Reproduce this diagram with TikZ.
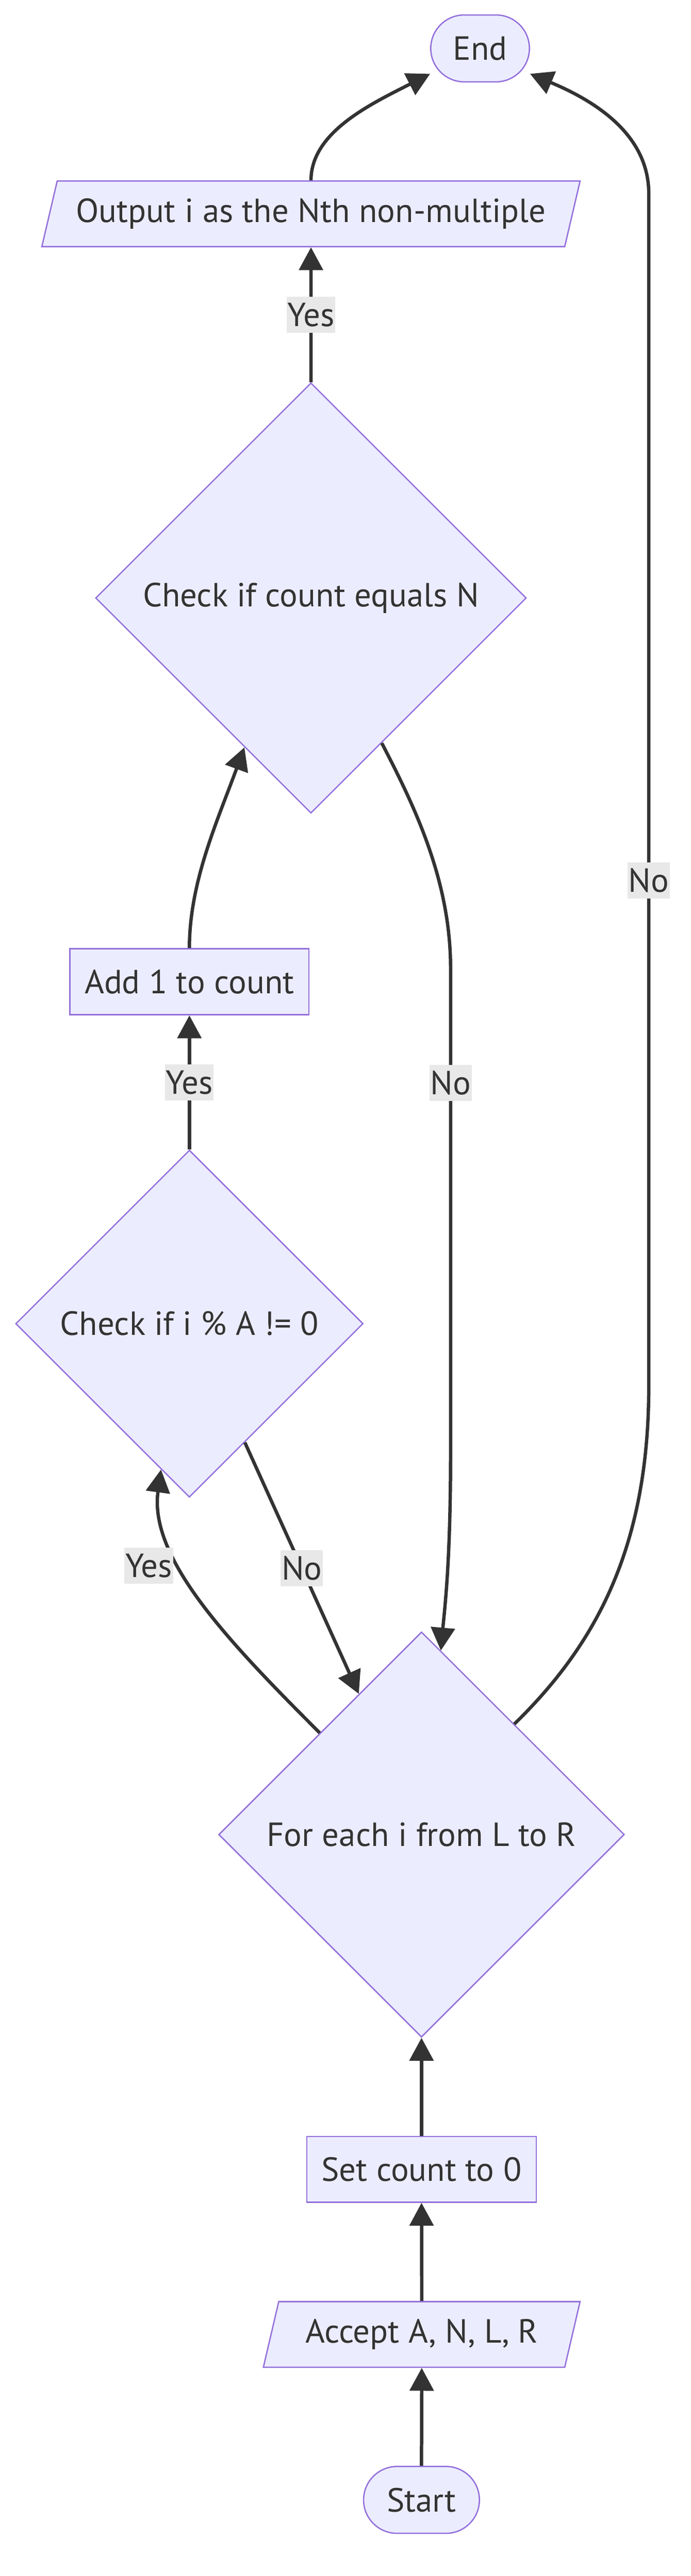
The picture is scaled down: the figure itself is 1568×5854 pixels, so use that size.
\documentclass[tikz,border=0pt]{standalone}
\usepackage{fontspec}
\setmainfont{PT Sans}
\usetikzlibrary{arrows.meta,shapes.geometric}
\definecolor{nodefill}{HTML}{ECECFF}
\definecolor{nodeline}{HTML}{9370DB}
\definecolor{edgeline}{HTML}{333333}
\definecolor{lblfill}{HTML}{E8E8E8}
\tikzset{
    base/.style={draw=nodeline, fill=nodefill, line width=0.75pt, text=edgeline, inner sep=0pt},
    term/.style={base, rectangle, rounded corners=19pt, minimum height=38pt},
    proc/.style={base, rectangle, minimum height=37.5pt},
    io/.style={base, trapezium, trapezium left angle=63.3, trapezium right angle=116.7, trapezium stretches body, minimum height=37.25pt},
    decision/.style={base, diamond, aspect=1},
    flow/.style={draw=edgeline, line width=1.9pt, -{Triangle[length=13pt,width=13.5pt]}},
    lbl/.style={fill=lblfill, text=edgeline, inner xsep=0.5pt, inner ysep=0pt, minimum height=20.5pt}
}
\begin{document}
\begin{tikzpicture}[x=0.25pt, y=-0.25pt, font=\fontsize{19}{23}\selectfont]
    \useasboundingbox (0,0) rectangle (1568,5854);
    \node[term, minimum width=56pt] (end) at (1090,110) {End};
    \node[io, minimum width=305.5pt] (outp) at (706,486) {Output i as the Nth non-multiple};
    \node[decision, minimum width=244.5pt, minimum height=244.5pt] (cond) at (706,1359) {Check if count equals N};
    \node[proc, minimum width=135.75pt] (addc) at (430,2231) {Add 1 to count};
    \node[decision, minimum width=197.25pt, minimum height=197.25pt] (chk) at (430,3008) {Check if i \% A != 0};
    \node[decision, minimum width=230.25pt, minimum height=230.25pt] (loop) at (957,4169) {For each i from L to R};
    \node[proc, minimum width=130.25pt, minimum height=37.25pt] (setc) at (957,4930) {Set count to 0};
    \node[io, minimum width=179.75pt] (acc) at (957.5,5305) {Accept A, N, L, R};
    \node[term, minimum width=65.75pt] (start) at (957,5681) {Start};

    \draw[flow] (start.north) -- (acc.south);
    \draw[flow] (acc.north) -- (setc.south);
    \draw[flow] (setc.north) -- (loop.south);
    \draw[flow] (loop.north west) .. controls (517,3729) and (338,3541) .. (chk.259)
        node[lbl] (yes1) at (338,3558) {Yes};
    \draw[flow] (chk.295) -- node[lbl] (no1) {No} (loop.114);
    \draw[flow] (chk.north) -- node[lbl] (yes2) {Yes} (addc.south);
    \draw[flow] (addc.north) .. controls (430,2005) and (493,1867) .. (cond.246);
    \draw[flow] (cond.north) -- node[lbl] (yes3) {Yes} (outp.south);
    \draw[flow] (cond.296) .. controls (940,1830) and (1023,2000) .. (1023,2200)
        -- node[lbl, pos=0.237] (no2) {No} (1023,3300)
        .. controls (1023,3550) and (1010,3650) .. (loop.84);
    \draw[flow] (loop.50) .. controls (1350,3740) and (1473,3520) .. (1473,3150)
        -- node[lbl, pos=0.424] (no3) {No} (1473,440)
        .. controls (1473,300) and (1340,225) .. (end.-27);
    \draw[flow] (outp.north) .. controls (706,300) and (843,236) .. (end.207);
\end{tikzpicture}
\end{document}
